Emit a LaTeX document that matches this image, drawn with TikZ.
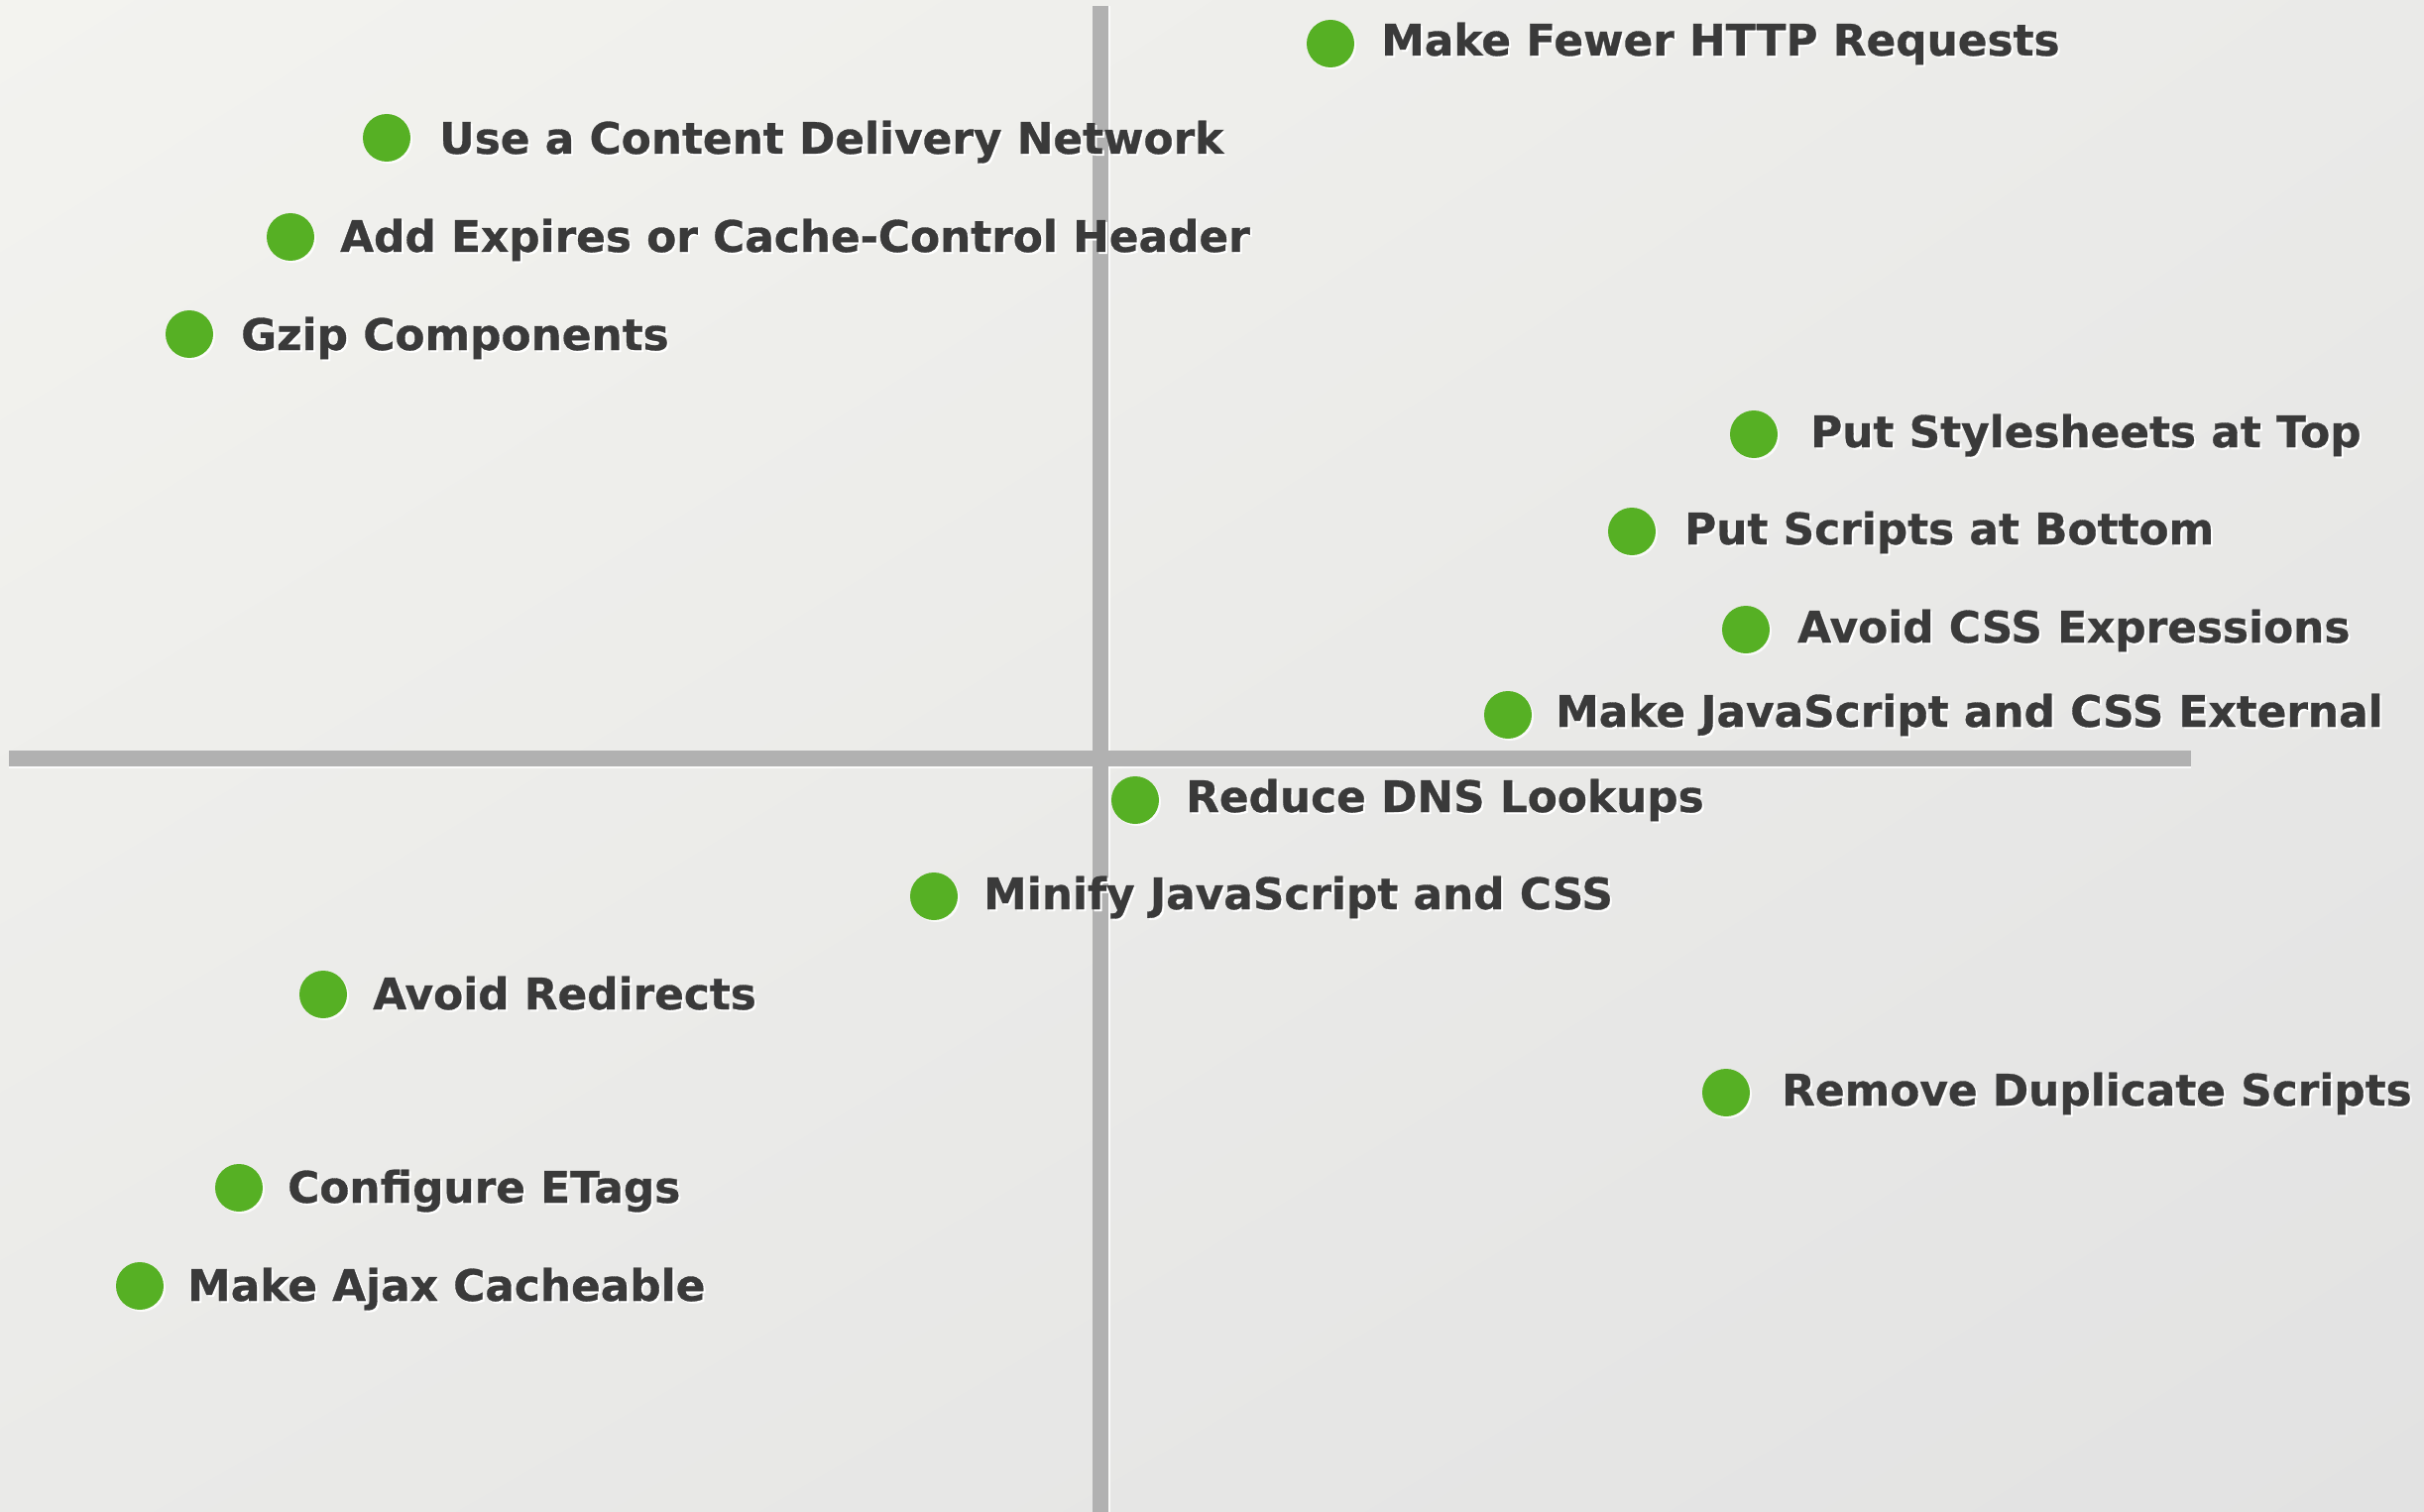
\documentclass[tikz,border=0pt]{standalone}
\usepackage{fontspec}
\setmainfont{DejaVu Sans}[BoldFeatures={FakeBold=0.7}]
\usetikzlibrary{shadings}
\definecolor{bgA}{HTML}{F3F3EF}
\definecolor{bgB}{HTML}{EAEAE8}
\definecolor{bgC}{HTML}{EAEAE8}
\definecolor{bgD}{HTML}{E2E2E2}
\definecolor{axisgray}{HTML}{B1B1B1}
\definecolor{dotgreen}{HTML}{56B024}
\definecolor{txtgray}{HTML}{3A3A3A}
\tikzset{
  dotnode/.style={circle,fill=dotgreen,minimum size=48pt,inner sep=0pt},
  dotshadow/.style={circle,fill=white,opacity=0.8,minimum size=48pt,inner sep=0pt},
  lbl/.style={anchor=base west,inner sep=0pt,text=txtgray,font=\fontsize{43.8}{50}\selectfont\bfseries},
  lblshadow/.style={anchor=base west,inner sep=0pt,text=white,font=\fontsize{43.8}{50}\selectfont\bfseries},
  axisline/.style={draw=axisgray,line width=16pt},
}
% #1 name, #2 dot x, #3 dot y, #4 text x, #5 baseline y, #6 text
\newcommand\itm[6]{%
  \node[dotshadow] at (#2+2,#3+2) {};
  \node[dotnode] (#1) at (#2,#3) {};
  \node[lblshadow] at (#4+2,#5+2) {#6};
  \node[lbl] (t#1) at (#4,#5) {#6};
}
\begin{document}
\begin{tikzpicture}[x=1pt,y=-1pt]
\useasboundingbox (0,0) rectangle (2445,1525);
\shade[upper left=bgA,upper right=bgB,lower left=bgC,lower right=bgD] (0,0) rectangle (2445,1525);
% axes
\coordinate (vtop) at (1109.5,6);
\coordinate (vbot) at (1109.5,1525);
\coordinate (hl) at (9,765);
\coordinate (hr) at (2210,765);
\draw[white,opacity=0.8,line width=16pt] ([xshift=2pt]vtop) -- ([xshift=2pt]vbot);
\draw[white,opacity=0.8,line width=16pt] ([yshift=-2pt]hl) -- ([yshift=-2pt]hr);
\draw[axisline] (vtop) -- (vbot);
\draw[axisline] (hl) -- (hr);
% items
\itm{d1}{1342}{44}{1393}{56}{Make Fewer HTTP Requests}
\itm{d2}{390}{139}{443}{155}{Use a Content Delivery Network}
\itm{d3}{293}{239}{343}{254}{Add Expires or Cache-Control Header}
\itm{d4}{191}{337}{243}{353}{Gzip Components}
\itm{d5}{1769}{438}{1826}{451}{Put Stylesheets at Top}
\itm{d6}{1646}{536}{1699}{549}{Put Scripts at Bottom}
\itm{d7}{1761}{635}{1813}{648}{Avoid CSS Expressions}
\itm{d8}{1521}{721}{1569}{733}{Make JavaScript and CSS External}
\itm{d9}{1145}{807}{1196}{819}{Reduce DNS Lookups}
\itm{d10}{942}{904}{992}{917}{Minify JavaScript and CSS}
\itm{d11}{326}{1003}{376}{1018}{Avoid Redirects}
\itm{d12}{1741}{1102}{1797}{1115}{Remove Duplicate Scripts}
\itm{d13}{241}{1198}{290}{1213}{Configure ETags}
\itm{d14}{141}{1297}{189}{1312}{Make Ajax Cacheable}
\end{tikzpicture}
\end{document}
